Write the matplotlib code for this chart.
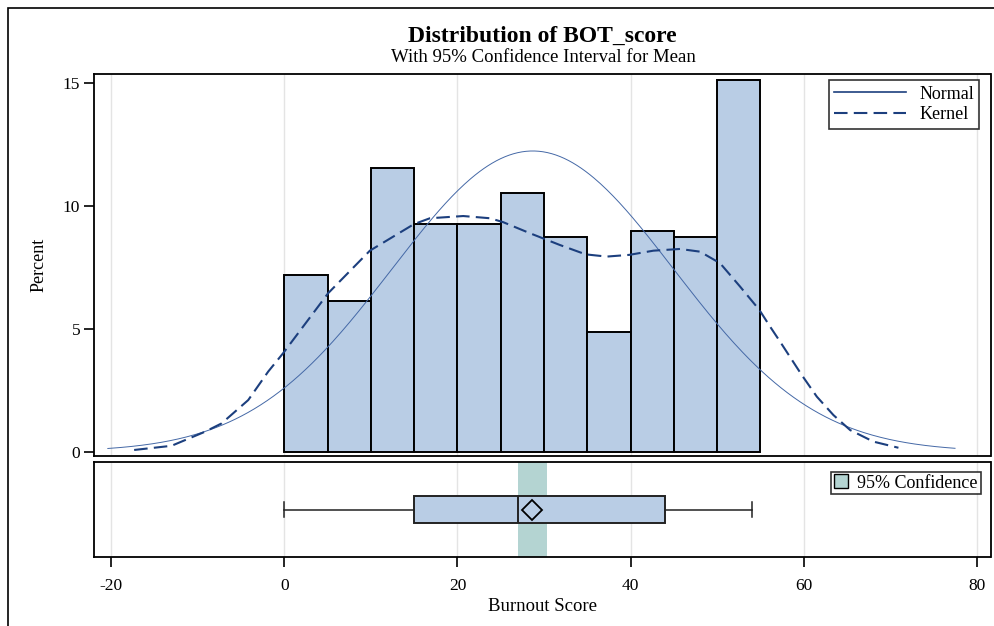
import numpy as np
import matplotlib
matplotlib.use("Agg")
import matplotlib.pyplot as plt
from matplotlib.lines import Line2D
from matplotlib.patches import Patch, Rectangle

plt.rcParams['font.family'] = ['Liberation Serif', 'DejaVu Serif']

# Histogram of burnout scores (percent per 5-point bin)
bin_left = [0, 5, 10, 15, 20, 25, 30, 35, 40, 45, 50]
bin_width = 5
percent = [7.19, 6.15, 11.53, 9.26, 9.26, 10.53, 8.73, 4.86, 8.98, 8.73, 15.13]

# Fitted normal density parameters
normal_mean = 28.7
normal_sd = 16.3
normal_range = (-20.4, 77.5)

# Kernel density estimate (percent scale)
kernel_x = [-17.36, -13.04, -9.19, -7.26, -4.18, -1.87, -0.14, 5.06, 9.88, 14.97,
            16.82, 20.67, 23.76, 25.29, 28.38, 31.85, 34.82, 37.25, 39.86, 42.64,
            45.72, 48.04, 50.35, 52.66, 54.89, 56.13, 57.28, 59.79, 61.53, 63.45,
            65.38, 68.07, 70.96]
kernel_y = [0.07, 0.24, 0.81, 1.15, 2.10, 3.26, 4.01, 6.45, 8.18, 9.26,
            9.50, 9.59, 9.50, 9.34, 8.89, 8.41, 8.03, 7.94, 8.01, 8.18,
            8.25, 8.14, 7.67, 6.72, 5.77, 5.09, 4.48, 3.12, 2.24, 1.49,
            0.88, 0.41, 0.16]

# Box plot summary
box_min, box_q1, box_median, box_q3, box_max = 0, 15, 27, 44, 54
box_mean = 28.6
ci_low, ci_high = 27.0, 30.3

x_ticks = [-20, 0, 20, 40, 60, 80]
y_ticks = [0, 5, 10, 15]

bar_color = '#B9CDE5'
curve_color = '#1C3F7E'
ci_color = '#B4D4D2'
grid_color = '#E4E4E4'
kernel_dash = (0, (6.5, 3))

W, H = 994, 626
fig = plt.figure(figsize=(W / 100, H / 100), dpi=100)


def frac_rect(l, t, r, b):
    return [l / W, 1 - b / H, (r - l) / W, (b - t) / H]


ax = fig.add_axes(frac_rect(94, 74, 990.5, 456))
axb = fig.add_axes(frac_rect(94, 462.3, 990.5, 556.7), sharex=ax)

xlim = (-22.0, 81.6)

# --- histogram panel ---
for xv in x_ticks:
    ax.axvline(xv, color=grid_color, lw=1.0, zorder=0)
ax.bar(bin_left, percent, width=bin_width, align='edge', color=bar_color,
       edgecolor='black', linewidth=1.4, zorder=2)

xs = np.linspace(normal_range[0], normal_range[1], 400)
norm_pct = 100 * bin_width * np.exp(-0.5 * ((xs - normal_mean) / normal_sd) ** 2) / (normal_sd * np.sqrt(2 * np.pi))
ax.plot(xs, norm_pct, color='#4468A6', lw=0.7, zorder=3)
ax.plot(kernel_x, kernel_y, color=curve_color, lw=1.5, ls=kernel_dash, zorder=3)

ax.set_xlim(*xlim)
ax.set_ylim(-0.175, 15.37)
ax.set_yticks(y_ticks)
ax.set_yticklabels([str(v) for v in y_ticks], fontsize=12.5)
ax.tick_params(axis='y', direction='out', length=7, width=1.2, pad=3)
ax.tick_params(axis='x', bottom=False, labelbottom=False)
ax.set_ylabel('Percent', fontsize=13, labelpad=11)
for sp in ax.spines.values():
    sp.set_linewidth(1.3)

handles = [Line2D([], [], color=curve_color, lw=1.2),
           Line2D([], [], color=curve_color, lw=1.5, ls=kernel_dash)]
leg = ax.legend(handles, ['Normal', 'Kernel'], loc='upper right',
                bbox_to_anchor=(0.9875, 0.984), fontsize=13, frameon=True,
                fancybox=False, handlelength=4.0, handletextpad=0.7,
                borderpad=0.3, labelspacing=0.2, borderaxespad=0)
leg.get_frame().set_edgecolor('black')
leg.get_frame().set_linewidth(1.2)

# --- box plot panel ---
for xv in x_ticks:
    axb.axvline(xv, color=grid_color, lw=1.0, zorder=0)
axb.axvspan(ci_low, ci_high, color=ci_color, lw=0, zorder=1)
stats = [dict(whislo=box_min, q1=box_q1, med=box_median, q3=box_q3,
              whishi=box_max, mean=box_mean, fliers=[])]
axb.bxp(stats, positions=[0.5], widths=0.29, vert=False, showmeans=True,
        patch_artist=True, capwidths=0.15,
        boxprops=dict(facecolor=bar_color, edgecolor='#222222', linewidth=1.4),
        medianprops=dict(color='#222222', linewidth=1.4),
        whiskerprops=dict(color='#222222', linewidth=1.1),
        capprops=dict(color='#222222', linewidth=1.1),
        meanprops=dict(marker='D', markersize=10, markerfacecolor='none',
                       markeredgecolor='black', markeredgewidth=1.3),
        manage_ticks=False, zorder=3)
axb.set_ylim(0, 1)
axb.set_yticks([])
axb.set_xticks(x_ticks)
axb.set_xticklabels([str(v) for v in x_ticks], fontsize=12.5)
axb.tick_params(axis='x', direction='out', length=7, width=1.2, pad=8)
axb.set_xlabel('Burnout Score', fontsize=13.5, labelpad=3)
for sp in axb.spines.values():
    sp.set_linewidth(1.3)
axb.set_xlim(*xlim)

leg2 = axb.legend([Patch(facecolor=ci_color, edgecolor='black', linewidth=1.0)],
                  ['95% Confidence'], loc='upper right',
                  bbox_to_anchor=(0.989, 0.9), fontsize=13, frameon=True,
                  fancybox=False, handlelength=0.8, handleheight=0.8,
                  handletextpad=0.5, borderpad=0.15, borderaxespad=0)
leg2.get_frame().set_edgecolor('black')
leg2.get_frame().set_linewidth(1.2)

# --- titles ---
fig.text(542 / W, 1 - 36 / H, 'Distribution of BOT_score', ha='center',
         va='center', fontsize=17, fontweight='bold')
fig.text(543 / W, 1 - 57.5 / H, 'With 95% Confidence Interval for Mean',
         ha='center', va='center', fontsize=13.5)

# outer frame
fig.add_artist(Rectangle((8 / W, -0.05), 1.1, 1 - 8 / H + 0.05,
                         transform=fig.transFigure, fill=False,
                         edgecolor='black', lw=1.2))

fig.savefig('out.png', dpi=100)
